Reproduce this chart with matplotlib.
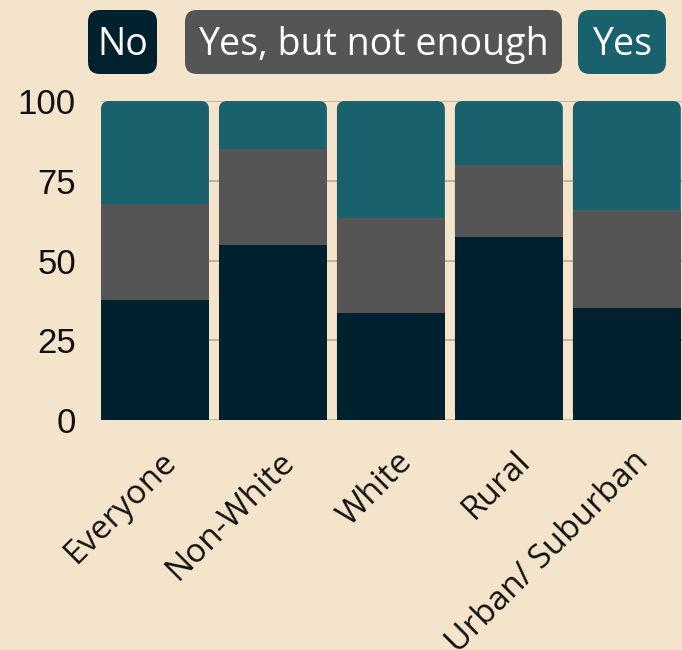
import matplotlib
matplotlib.use('Agg')
import matplotlib.pyplot as plt
from matplotlib.patches import FancyBboxPatch
from matplotlib.transforms import ScaledTranslation
import numpy as np

groups = ['Everyone', 'Non-White', 'White', 'Rural', 'Urban/ Suburban']
no = [37.7, 55.0, 33.6, 57.4, 35.1]
not_enough = [30.1, 29.9, 29.8, 22.6, 30.8]
yes = [32.2, 15.1, 36.6, 20.0, 34.1]

bg = '#f4e4cb'
c_no = '#02212e'
c_mid = '#555555'
c_yes = '#19616d'

fig = plt.figure(figsize=(6.82, 6.5), dpi=100, facecolor=bg)
ax = fig.add_axes([101 / 682, 1 - 420 / 650, 581 / 682, 319 / 650])
ax.set_facecolor(bg)

x = np.arange(len(groups))
w = 0.915
no = np.array(no)
mid_top = no + np.array(not_enough)
total = mid_top + np.array(yes)

# top segment as a rounded box from 0 up, the others are drawn over it
for xi, t in zip(x, total):
    box = FancyBboxPatch((xi - w / 2, 0), w, t,
                         boxstyle='round,pad=0,rounding_size=0.07',
                         mutation_aspect=36, fc=c_yes, ec='none', zorder=2)
    ax.add_patch(box)
ax.bar(x, mid_top, width=w, color=c_mid, zorder=3)
ax.bar(x, no, width=w, color=c_no, zorder=4)

ax.set_xlim(-w / 2, len(groups) - 1 + w / 2 + 0.01)
ax.set_ylim(0, 100)
ax.set_yticks([0, 25, 50, 75, 100])
ax.grid(axis='y', color='#b9aa98', linewidth=1.2, zorder=0)
for s in ax.spines.values():
    s.set_visible(False)
ax.tick_params(length=0)
ax.tick_params(axis='y', pad=18)
for lab in ax.get_yticklabels():
    lab.set_fontfamily('Liberation Sans')
    lab.set_fontsize(25)
    lab.set_color('#111111')
    lab.set_clip_on(False)

ax.set_xticks(x)
ax.set_xticklabels(groups, rotation=45, ha='right', rotation_mode='anchor',
                   fontsize=24, fontfamily='Open Sans', color='#111111')
ax.tick_params(axis='x', pad=18)
for lab in ax.get_xticklabels():
    lab.set_transform(lab.get_transform() + ScaledTranslation(0.05, 0, fig.dpi_scale_trans))

# legend chips, positions in pixels from the top-left corner
chips = [('No', c_no, 88, 157), ('Yes, but not enough', c_mid, 185, 562),
         ('Yes', c_yes, 578, 666)]
H = 6.5
for txt, col, x0, x1 in chips:
    p = FancyBboxPatch((x0 / 100, H - 0.74), (x1 - x0) / 100, 0.64,
                       boxstyle='round,pad=0,rounding_size=0.12',
                       fc=col, ec='none', transform=fig.dpi_scale_trans)
    fig.patches.append(p)
    fig.text((x0 + x1) / 2 / 682, 1 - 45 / 650, txt, ha='center', va='center',
             fontsize=27, fontfamily='Open Sans', color='white')

fig.savefig('out.png', dpi=100, facecolor=bg)
